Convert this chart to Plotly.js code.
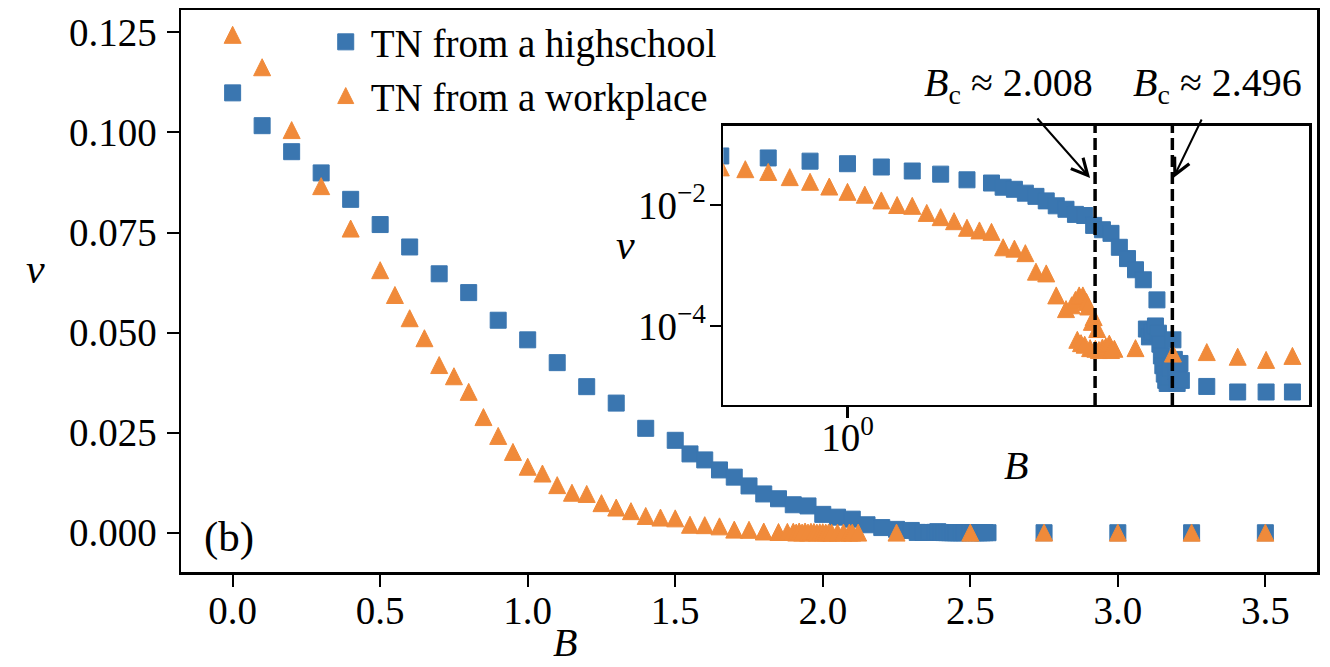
<!DOCTYPE html>
<html>
<head>
<meta charset="utf-8">
<script src="https://cdn.plot.ly/plotly-3.0.1.min.js"></script>
<style>html,body{margin:0;padding:0;background:#fff;}#chart{width:1330px;height:667px;}</style>
</head>
<body>
<div id="chart"></div>
<script>
// TN from a highschool
const B_hs = [0,0.1,0.2,0.3,0.4,0.5,0.6,0.7,0.8,0.9,1.0,1.1,1.2,1.3,1.4,1.5,
  1.55,1.6,1.65,1.7,1.75,1.8,1.85,1.9,1.95,2.0,2.05,2.1,2.15,2.2,2.25,2.3,
  2.32,2.34,2.36,2.38,2.39,2.40,2.41,2.42,2.43,2.44,2.45,2.46,2.47,2.48,2.50,2.51,2.52,2.53,2.54,2.55,2.56,
  2.75,3.0,3.25,3.5];
const v_hs = [0.1099,0.1017,0.0952,0.0899,0.0833,0.0770,0.0714,0.0647,0.0600,0.0531,0.0482,0.0425,0.0365,0.0324,0.0261,0.0231,
  0.0197,0.0182,0.0157,0.0139,0.0117,0.0097,0.0085,0.0070,0.0067,0.0046,0.0039,0.0034,0.0020,0.0013,0.00085,0.00058,
  8.9e-5,6.6e-5,7.9e-5,1.0e-4,2.7e-4,7.6e-5,5.0e-5,3.2e-5,2.2e-5,1.6e-5,1.26e-5,1.12e-5,1.41e-5,2.0e-5,5.9e-5,2.8e-5,1.78e-5,1.12e-5,1.6e-5,2.4e-5,1.26e-5,
  1.0e-5,8.1e-6,8.1e-6,8.1e-6];

// TN from a workplace
const B_wp = [0,0.1,0.2,0.3,0.4,0.5,
  0.55,0.6,0.65,0.7,0.75,0.8,0.85,0.9,0.95,1.0,1.05,1.1,1.15,1.2,1.25,1.3,1.35,1.4,1.45,1.5,1.55,1.6,1.65,1.7,1.75,1.8,1.85,
  1.88,1.90,1.91,1.92,1.93,1.94,1.95,1.96,1.97,1.98,1.99,2.00,2.01,2.02,2.03,2.05,2.07,2.09,2.10,2.12,
  2.25,2.5,2.75,3.0,3.25,3.5];
const v_wp = [0.1244,0.1163,0.1006,0.0866,0.0760,0.0656,
  0.0594,0.0536,0.0486,0.0419,0.0391,0.0352,0.0289,0.0242,0.0202,0.0165,0.0148,0.0119,0.0100,0.0097,0.0074,0.0063,0.0054,0.0042,0.0038,0.0036,0.0020,0.0019,0.0016,0.00079,0.00074,0.00032,0.00019,
  2.2e-4,2.7e-4,5.9e-5,3.2e-4,5.2e-5,3.2e-4,4.9e-5,2.5e-4,2.1e-4,4.3e-5,1.17e-4,1.4e-4,4.2e-5,8.9e-5,4.0e-5,4.4e-5,4.6e-5,5.1e-5,4.0e-5,4.2e-5,
  4.3e-5,3.5e-5,3.7e-5,3.1e-5,2.75e-5,3.2e-5];

const Bc = [2.008, 2.496];
const seriesNames = ['TN from a highschool', 'TN from a workplace'];
const xTicks = [0,0.5,1.0,1.5,2.0,2.5,3.0,3.5];
const yTicks = [0,0.025,0.05,0.075,0.1,0.125];
const insetXRange = [0.705, 3.67];
const insetYRange = [4.94e-6, 0.2047];

const BLUE = '#3a76b0', ORANGE = '#f08a3a';
const FONT = 'Liberation Serif, Times New Roman, serif';
const FS = 39;

const sq = {symbol:'square', size:16, color:BLUE, line:{color:BLUE, width:1}};
// upward triangle with equal width and height, centred on the point
const tri = {symbol:'arrow-down', angle:180, standoff:8.5, size:17, color:ORANGE, line:{color:ORANGE, width:1}};
// legend glyph (legend reverses standoff)
const triLegend = {symbol:'arrow-up', angle:0, standoff:8, size:16, color:ORANGE, line:{color:ORANGE, width:1}};

const traces = [
  {x:B_hs, y:v_hs, type:'scatter', mode:'markers', name:seriesNames[0], marker:sq, xaxis:'x', yaxis:'y'},
  {x:B_wp, y:v_wp, type:'scatter', mode:'markers', name:seriesNames[1], showlegend:false, marker:tri, xaxis:'x', yaxis:'y'},
  {x:[null], y:[null], type:'scatter', mode:'markers', name:seriesNames[1], marker:triLegend, xaxis:'x', yaxis:'y'},
  {x:B_hs, y:v_hs, type:'scatter', mode:'markers', showlegend:false, marker:sq, xaxis:'x2', yaxis:'y2'},
  {x:B_wp, y:v_wp, type:'scatter', mode:'markers', showlegend:false, marker:tri, xaxis:'x2', yaxis:'y2'}
];
Bc.forEach(b => traces.push({x:[b,b], y:insetYRange, type:'scatter', mode:'lines', showlegend:false,
  line:{color:'#000', width:3.5, dash:'12px,5px'}, xaxis:'x2', yaxis:'y2'}));

const axBase = {showline:true, linecolor:'#000', linewidth:2.5, mirror:true, ticks:'outside',
  tickcolor:'#000', showgrid:false, zeroline:false, tickfont:{family:FONT, size:FS, color:'#000'}};

const layout = {
  width:1330, height:667,
  margin:{l:181, r:13, t:10, b:95, autoexpand:false},
  paper_bgcolor:'#fff', plot_bgcolor:'#fff',
  font:{family:FONT, size:FS, color:'#000'},
  showlegend:true,
  legend:{x:0.123, y:1.0, xanchor:'left', yanchor:'top', bgcolor:'rgba(0,0,0,0)',
    font:{family:FONT, size:FS, color:'#000'}, itemwidth:40, tracegroupgap:0},
  xaxis:Object.assign({}, axBase, {range:[-0.175,3.675], tickvals:xTicks, tickformat:'.1f',
    ticklen:12, tickwidth:2, domain:[0,1], anchor:'y', ticklabelstandoff:-9}),
  yaxis:Object.assign({}, axBase, {range:[-0.0098,0.1306], tickvals:yTicks, tickformat:'.3f',
    ticklen:12, tickwidth:2, domain:[0,1], anchor:'x', ticklabelstandoff:2}),
  xaxis2:Object.assign({}, axBase, {type:'log', range:insetXRange.map(Math.log10),
    tickvals:[1], ticktext:['10<sup>0</sup>'], ticklen:11, tickwidth:2.5,
    domain:[0.4774,0.9932], anchor:'y2', ticklabelstandoff:-14}),
  yaxis2:Object.assign({}, axBase, {type:'log', range:insetYRange.map(Math.log10),
    tickvals:[1e-2,1e-4], ticktext:['10<sup>\u22122</sup>','10<sup>\u22124</sup>'], ticklen:11, tickwidth:2.5,
    domain:[0.2972,0.7941], anchor:'x2', ticklabelstandoff:-4}),
  annotations: [
    {xref:'paper', yref:'paper', x:-0.128, y:0.54, text:'<i>v</i>', showarrow:false, font:{size:42}, xanchor:'center', yanchor:'middle'},
    {xref:'paper', yref:'paper', x:0.338, y:-0.125, text:'<i>B</i>', showarrow:false, font:{size:40}, xanchor:'center', yanchor:'middle'},
    {xref:'paper', yref:'paper', x:0.391, y:0.582, text:'<i>v</i>', showarrow:false, font:{size:42}, xanchor:'center', yanchor:'middle'},
    {xref:'paper', yref:'paper', x:0.735, y:0.19, text:'<i>B</i>', showarrow:false, font:{size:40}, xanchor:'center', yanchor:'middle'},
    {xref:'paper', yref:'paper', x:0.0423, y:0.0623, text:'(b)', showarrow:false, font:{size:43}, xanchor:'center', yanchor:'middle'},
    {xref:'paper', yref:'paper', x:0.728, y:0.8665, text:'<i>B</i><sub>c</sub> \u2248 ' + Bc[0].toFixed(3), showarrow:false, font:{size:40}, xanchor:'center', yanchor:'middle'},
    {xref:'paper', yref:'paper', x:0.912, y:0.8665, text:'<i>B</i><sub>c</sub> \u2248 ' + Bc[1].toFixed(3), showarrow:false, font:{size:40}, xanchor:'center', yanchor:'middle'},
    {xref:'x2', yref:'y2', x:Math.log10(Bc[0]), y:-1.554, xshift:-5, text:'', showarrow:true,
      axref:'pixel', ayref:'pixel', ax:-54, ay:-61, arrowhead:5, arrowsize:1.6, arrowwidth:2, arrowcolor:'#000'},
    {xref:'x2', yref:'y2', x:Math.log10(Bc[1]), y:-1.554, xshift:1, text:'', showarrow:true,
      axref:'pixel', ayref:'pixel', ax:29, ay:-60, arrowhead:5, arrowsize:1.6, arrowwidth:2, arrowcolor:'#000'}
  ]
};

Plotly.newPlot('chart', traces, layout, {staticPlot:true, displayModeBar:false});
</script>
</body>
</html>
